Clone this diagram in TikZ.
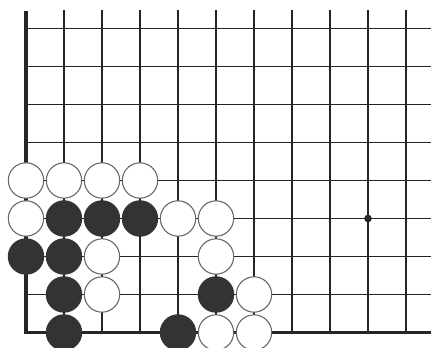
\documentclass[tikz,border=0pt]{standalone}
\usetikzlibrary{calc}

\begin{document}
\begin{tikzpicture}[x=1cm, y=1cm,
  stone/.style={circle, line width=0.8pt, minimum size=0.93cm, inner sep=0pt},
  whitestone/.style={stone, draw=black!60, fill=white},
  blackstone/.style={stone, draw=black!80, fill=black!80}]
  \useasboundingbox (-0.684,-0.382) rectangle (10.658,8.75);
  \clip (-0.684,-0.382) rectangle (10.658,8.75);
  % board lines
  \foreach \j in {1,...,8} \draw[line width=0.9pt, black!85] (0,\j) -- (10.7,\j);
  \foreach \i in {1,...,10} \draw[line width=0.9pt, black!85] (\i,0) -- (\i,8.48);
  \draw[line width=2.5pt, black!85] (0,8.46) -- (0,0) -- (10.7,0);
  \node[circle, fill=black!85, inner sep=0pt, minimum size=0.2cm] (hoshi) at (9,3) {};
  % stones
  \foreach \c/\r in {0/4, 1/4, 2/4, 3/4, 0/3, 4/3, 5/3, 2/2, 5/2, 2/1, 6/1, 5/0, 6/0}
    \node[whitestone] (w\c\r) at (\c,\r) {};
  \foreach \c/\r in {1/3, 2/3, 3/3, 0/2, 1/2, 1/1, 5/1, 1/0, 4/0}
    \node[blackstone] (b\c\r) at (\c,\r) {};
\end{tikzpicture}
\end{document}
